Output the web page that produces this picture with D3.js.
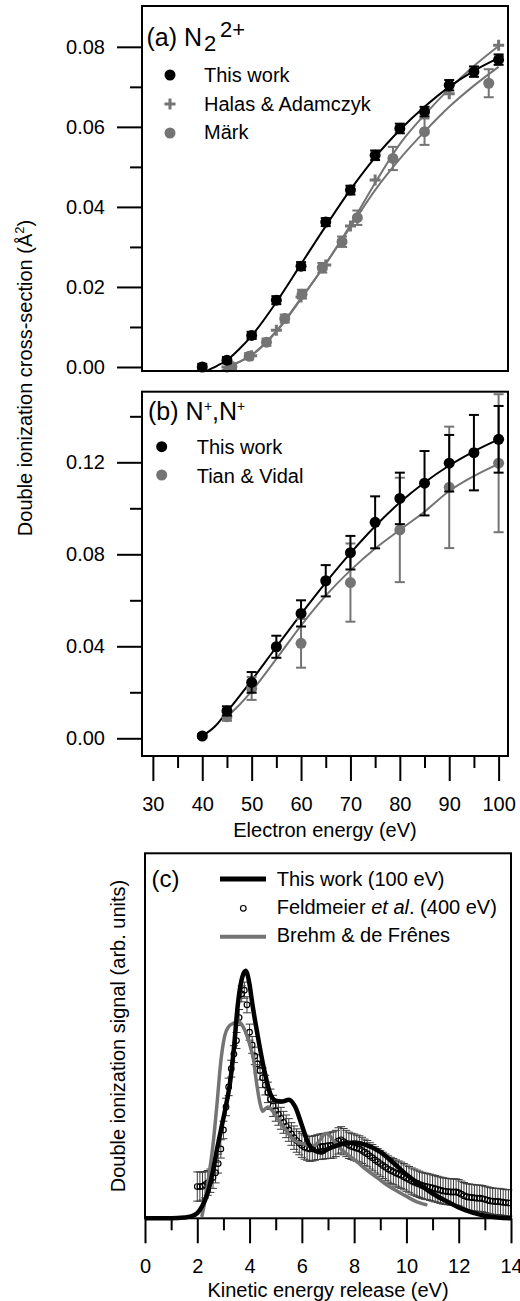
<!DOCTYPE html>
<html>
<head>
<meta charset="utf-8">
<script src="https://cdn.jsdelivr.net/npm/d3@7"></script>
<style>
  body { margin: 0; background: #fff; }
  svg { display: block; }
  text { font-family: "Liberation Sans", Arial, Helvetica, sans-serif; }
</style>
</head>
<body>
<svg id="chart" width="520" height="1301"></svg>
<script>
// ---- panel (a): N2 2+ double ionization cross-section ----
const thisWorkA_E = [40, 45, 50, 55, 60, 65, 70, 75, 80, 85, 90, 95, 100];
const thisWorkA = [0.0000, 0.0017, 0.0079, 0.0167, 0.0252, 0.0362, 0.0442, 0.0529, 0.0596, 0.0638, 0.0704, 0.0738, 0.0768];
const thisWorkA_err = [0.0008, 0.0008, 0.0009, 0.0010, 0.0010, 0.0010, 0.0011, 0.0012, 0.0012, 0.0012, 0.0013, 0.0013, 0.0013];

const halas_E = [45, 50, 55, 60, 65, 70, 75, 90, 100];
const halas = [0.0000, 0.0028, 0.0092, 0.0175, 0.0255, 0.0352, 0.0467, 0.0683, 0.0804];

const mark_E = [46, 49.5, 53, 56.7, 60.2, 64.3, 68.3, 71.4, 78.6, 85, 98];
const mark = [0.0001, 0.0027, 0.0062, 0.0121, 0.0182, 0.0248, 0.0313, 0.0373, 0.0521, 0.0588, 0.0709];
const mark_err = [0.0006, 0.0008, 0.0009, 0.0010, 0.0011, 0.0012, 0.0013, 0.0018, 0.0029, 0.0033, 0.0035];

const fitA_E = [41, 43, 45, 47.5, 50, 55, 60, 65, 70, 75, 80, 85, 90, 95, 100, 101];
const fitA = [-0.0009, 0.0003, 0.0017, 0.0045, 0.0078, 0.0162, 0.0257, 0.0352, 0.0443, 0.0524, 0.0592, 0.0650, 0.0700, 0.0740, 0.0772, 0.0778];
const halasFit_E = [44, 46, 48, 50, 55, 60, 65, 70, 75, 80, 85, 90, 95, 100];
const halasFit = [-0.0009, 0.0004, 0.0016, 0.0030, 0.0088, 0.0170, 0.0258, 0.0355, 0.0460, 0.0557, 0.0630, 0.0695, 0.0752, 0.0802];
const markFit_E = [44, 46, 48, 50, 55, 60, 65, 70, 75, 80, 85, 90, 95, 100];
const markFit = [-0.0009, 0.0004, 0.0016, 0.0030, 0.0090, 0.0172, 0.0258, 0.0350, 0.0442, 0.0520, 0.0588, 0.0650, 0.0703, 0.0750];

// ---- panel (b): N+,N+ ----
const thisWorkB_E = [40, 45, 50, 55, 60, 65, 70, 75, 80, 85, 90, 95, 100];
const thisWorkB = [0.0010, 0.0119, 0.0243, 0.0398, 0.0543, 0.0685, 0.0807, 0.0939, 0.1043, 0.1109, 0.1196, 0.1242, 0.1300];
const thisWorkB_err = [0.0008, 0.0020, 0.0045, 0.0048, 0.0057, 0.0068, 0.0073, 0.0113, 0.0112, 0.0140, 0.0123, 0.0164, 0.0145];

const tian_E = [45, 50, 60, 70, 80, 90, 100];
const tian = [0.0094, 0.0217, 0.0413, 0.0677, 0.0906, 0.1091, 0.1196];
const tian_err = [0.0018, 0.0050, 0.0106, 0.0170, 0.0227, 0.0264, 0.0300];

const fitB_E = [40, 42.5, 45, 50, 55, 60, 65, 70, 75, 80, 85, 90, 95, 100];
const fitB = [0.0010, 0.0050, 0.0115, 0.0252, 0.0397, 0.0540, 0.0677, 0.0805, 0.0922, 0.1025, 0.1112, 0.1186, 0.1248, 0.1300];
const tianFit_E = [44.5, 47.5, 50, 55, 60, 65, 70, 75, 80, 85, 90, 95, 100];
const tianFit = [0.0085, 0.0145, 0.0205, 0.0345, 0.0490, 0.0620, 0.0730, 0.0825, 0.0906, 0.0985, 0.1075, 0.1140, 0.1193];

// ---- panel (c): kinetic energy release ----
const thisWorkC_E = [0, 1.0, 1.5, 1.75, 2.0, 2.2, 2.4, 2.6, 2.75, 2.9, 3.1, 3.25, 3.4, 3.55, 3.7, 3.85, 4.0, 4.1, 4.3, 4.55, 4.8, 5.0, 5.25, 5.5, 5.75, 6.0, 6.25, 6.5, 6.75, 7.0, 7.5, 8.0, 8.5, 9.0, 9.5, 10.0, 10.5, 11.0, 11.5, 12.0, 12.5, 13.0, 13.5, 14.0];
const thisWorkC = [0, 0, 0.002, 0.005, 0.014, 0.035, 0.07, 0.13, 0.187, 0.24, 0.31, 0.37, 0.465, 0.585, 0.655, 0.678, 0.64, 0.59, 0.505, 0.41, 0.34, 0.322, 0.32, 0.325, 0.305, 0.255, 0.205, 0.185, 0.18, 0.19, 0.203, 0.208, 0.2, 0.182, 0.152, 0.12, 0.093, 0.068, 0.048, 0.03, 0.016, 0.007, 0.002, 0];

const brehm_E = [2.17, 2.3, 2.45, 2.6, 2.75, 2.9, 3.05, 3.2, 3.35, 3.55, 3.75, 3.9, 4.05, 4.15, 4.27, 4.4, 4.5, 4.6, 4.7, 4.9, 5.1, 5.3, 5.5, 5.7, 5.9, 6.1, 6.3, 6.5, 6.7, 6.9, 7.05, 7.2, 7.5, 7.8, 8.1, 8.5, 8.9, 9.3, 9.7, 10.0, 10.4, 10.8];
const brehm = [0.004, 0.05, 0.12, 0.2, 0.31, 0.43, 0.5, 0.525, 0.533, 0.539, 0.525, 0.5, 0.465, 0.435, 0.37, 0.315, 0.293, 0.3, 0.305, 0.292, 0.27, 0.25, 0.23, 0.214, 0.207, 0.203, 0.198, 0.2, 0.215, 0.232, 0.228, 0.214, 0.19, 0.172, 0.155, 0.131, 0.11, 0.089, 0.072, 0.06, 0.045, 0.036];

const feld_E = [
  2.0, 2.1, 2.2, 2.3, 2.4, 2.5, 2.6, 2.7, 2.8, 2.9,
  3.0, 3.1, 3.2, 3.3, 3.4, 3.5, 3.6, 3.7, 3.8, 3.9,
  4.0, 4.1, 4.2, 4.3, 4.4, 4.5, 4.6, 4.7, 4.8, 4.9,
  5.0, 5.1, 5.2, 5.3, 5.4, 5.5, 5.6, 5.7, 5.8, 5.9,
  6.0, 6.1, 6.2, 6.3, 6.4, 6.5, 6.6, 6.7, 6.8, 6.9,
  7.0, 7.1, 7.2, 7.3, 7.4, 7.5, 7.6, 7.7, 7.8, 7.9,
  8.0, 8.1, 8.2, 8.3, 8.4, 8.5, 8.6, 8.7, 8.8, 8.9,
  9.0, 9.1, 9.2, 9.3, 9.4, 9.5, 9.6, 9.7, 9.8, 9.9,
  10.0, 10.1, 10.2, 10.3, 10.4, 10.5, 10.6, 10.7, 10.8, 10.9,
  11.0, 11.1, 11.2, 11.3, 11.4, 11.5, 11.6, 11.7, 11.8, 11.9,
  12.0, 12.1, 12.2, 12.3, 12.4, 12.5, 12.6, 12.7, 12.8, 12.9,
  13.0, 13.1, 13.2, 13.3, 13.4, 13.5, 13.6, 13.7, 13.8, 13.9];
const feld = [
  0.087, 0.087, 0.088, 0.092, 0.097, 0.103, 0.112, 0.125, 0.150, 0.190,
  0.242, 0.305, 0.360, 0.410, 0.450, 0.487, 0.550, 0.615, 0.625, 0.585,
  0.510, 0.475, 0.445, 0.423, 0.405, 0.385, 0.365, 0.345, 0.326, 0.308,
  0.295, 0.285, 0.274, 0.263, 0.252, 0.242, 0.231, 0.221, 0.213, 0.206,
  0.200, 0.195, 0.192, 0.190, 0.191, 0.193, 0.195, 0.196, 0.197, 0.198,
  0.199, 0.200, 0.201, 0.205, 0.212, 0.215, 0.210, 0.205, 0.200, 0.197,
  0.195, 0.192, 0.190, 0.186, 0.181, 0.177, 0.171, 0.166, 0.160, 0.155,
  0.150, 0.145, 0.140, 0.135, 0.131, 0.128, 0.124, 0.121, 0.118, 0.114,
  0.110, 0.106, 0.102, 0.099, 0.096, 0.093, 0.090, 0.088, 0.087, 0.085,
  0.083, 0.081, 0.079, 0.077, 0.075, 0.074, 0.073, 0.072, 0.072, 0.072,
  0.070, 0.066, 0.062, 0.059, 0.058, 0.057, 0.056, 0.055, 0.055, 0.054,
  0.052, 0.050, 0.048, 0.047, 0.046, 0.046, 0.045, 0.044, 0.043, 0.042];
const feld_err = [
  0.040, 0.040, 0.038, 0.036, 0.034, 0.032, 0.030, 0.028, 0.026, 0.025,
  0.024, 0.024, 0.024, 0.023, 0.023, 0.022, 0.022, 0.022, 0.022, 0.022,
  0.022, 0.023, 0.024, 0.025, 0.026, 0.027, 0.027, 0.028, 0.028, 0.029,
  0.029, 0.030, 0.030, 0.030, 0.031, 0.031, 0.031, 0.032, 0.032, 0.032,
  0.033, 0.033, 0.033, 0.034, 0.034, 0.034, 0.034, 0.035, 0.035, 0.035,
  0.035, 0.036, 0.036, 0.036, 0.036, 0.036, 0.036, 0.036, 0.036, 0.036,
  0.036, 0.036, 0.036, 0.036, 0.036, 0.036, 0.036, 0.036, 0.036, 0.036,
  0.036, 0.036, 0.036, 0.036, 0.036, 0.036, 0.036, 0.036, 0.036, 0.036,
  0.036, 0.036, 0.036, 0.036, 0.036, 0.036, 0.036, 0.036, 0.036, 0.036,
  0.036, 0.036, 0.036, 0.036, 0.036, 0.036, 0.036, 0.036, 0.036, 0.036,
  0.036, 0.036, 0.036, 0.036, 0.036, 0.036, 0.036, 0.036, 0.036, 0.036,
  0.036, 0.036, 0.036, 0.036, 0.036, 0.036, 0.036, 0.036, 0.036, 0.036];

// ---- ticks ----
const yTicksA = [0, 0.02, 0.04, 0.06, 0.08];
const yMinorA = [0.01, 0.03, 0.05, 0.07];
const yTicksB = [0, 0.04, 0.08, 0.12];
const yMinorB = [0.02, 0.06, 0.10, 0.14];
const xTicksB = [30, 40, 50, 60, 70, 80, 90, 100];
const xMinorB = [35, 45, 55, 65, 75, 85, 95];
const xTicksC = [0, 2, 4, 6, 8, 10, 12, 14];
const xMinorC = [1, 3, 5, 7, 9, 11, 13];

const GRAY = "#747474";
const svg = d3.select("#chart");

const xE = d3.scaleLinear().domain([27.8, 101.9]).range([142, 508]);
const yA = d3.scaleLinear().domain([-0.001, 0.0902]).range([371, 6]);
const yB = d3.scaleLinear().domain([-0.0077, 0.1507]).range([756, 391.7]);
const xK = d3.scaleLinear().domain([0, 14]).range([145, 511]);
const yK = d3.scaleLinear().domain([0, 1]).range([1218.3, 853.3]);

function styleAxis(g) {
  g.select(".domain").remove();
  g.selectAll("line").attr("stroke", "#000").attr("stroke-width", 2);
  g.selectAll("text").attr("font-size", 20).attr("fill", "#000")
    .attr("font-family", '"Liberation Sans", Arial, sans-serif');
}

function leftAxis(scale, x, major, minor) {
  svg.append("g").attr("transform", "translate(" + x + ",0)")
    .call(d3.axisLeft(scale).tickValues(minor).tickSize(12).tickFormat(""))
    .call(styleAxis);
  svg.append("g").attr("transform", "translate(" + x + ",0)")
    .call(d3.axisLeft(scale).tickValues(major).tickSize(25).tickPadding(12).tickFormat(d3.format(".2f")))
    .call(styleAxis);
}

function bottomAxis(scale, y, major, minor) {
  svg.append("g").attr("transform", "translate(0," + y + ")")
    .call(d3.axisBottom(scale).tickValues(minor).tickSize(12).tickFormat(""))
    .call(styleAxis);
  svg.append("g").attr("transform", "translate(0," + y + ")")
    .call(d3.axisBottom(scale).tickValues(major).tickSize(25).tickPadding(16).tickFormat(d3.format("d")))
    .call(styleAxis);
}

function frame(xs, ys) {
  svg.append("rect")
    .attr("x", xs.range()[0]).attr("y", ys.range()[1])
    .attr("width", xs.range()[1] - xs.range()[0])
    .attr("height", ys.range()[0] - ys.range()[1])
    .attr("fill", "none").attr("stroke", "#000").attr("stroke-width", 2);
}

function curve(xs, ys, ex, ey, color, w) {
  const pts = ex.map((e, i) => [e, ey[i]]);
  svg.append("path").datum(pts)
    .attr("fill", "none").attr("stroke", color).attr("stroke-width", w)
    .attr("stroke-linejoin", "round")
    .attr("d", d3.line().x(d => xs(d[0])).y(d => ys(d[1])).curve(d3.curveMonotoneX));
}

function errBars(xs, ys, ex, ey, err, color, w, cap) {
  const g = svg.append("g").attr("stroke", color).attr("stroke-width", w);
  ex.forEach((e, i) => {
    const x = xs(e), y1 = ys(ey[i] - err[i]), y2 = ys(ey[i] + err[i]);
    g.append("line").attr("x1", x).attr("x2", x).attr("y1", y1).attr("y2", y2);
    g.append("line").attr("x1", x - cap).attr("x2", x + cap).attr("y1", y1).attr("y2", y1);
    g.append("line").attr("x1", x - cap).attr("x2", x + cap).attr("y1", y2).attr("y2", y2);
  });
}

function dots(xs, ys, ex, ey, color, r) {
  svg.append("g").selectAll("circle").data(ex).join("circle")
    .attr("cx", d => xs(d)).attr("cy", (d, i) => ys(ey[i])).attr("r", r)
    .attr("fill", color);
}

function pluses(xs, ys, ex, ey, color) {
  svg.append("g").selectAll("path").data(ex).join("path")
    .attr("d", (d, i) => "M" + (xs(d) - 5.5) + "," + ys(ey[i]) + "h11M" + xs(d) + "," + (ys(ey[i]) - 5.5) + "v11")
    .attr("stroke", color).attr("stroke-width", 3);
}

// ===== panel (a) =====
curve(xE, yA, markFit_E, markFit, GRAY, 2);
curve(xE, yA, halasFit_E, halasFit, GRAY, 2);
curve(xE, yA, fitA_E, fitA, "#000", 2);
errBars(xE, yA, mark_E, mark, mark_err, GRAY, 2, 5);
dots(xE, yA, mark_E, mark, GRAY, 5.5);
pluses(xE, yA, halas_E, halas, GRAY);
errBars(xE, yA, thisWorkA_E, thisWorkA, thisWorkA_err, "#000", 2, 5);
dots(xE, yA, thisWorkA_E, thisWorkA, "#000", 5.5);
frame(xE, yA);
leftAxis(yA, 142, yTicksA, yMinorA);

const titleA = svg.append("text").attr("font-size", 25).attr("y", 46);
titleA.append("tspan").attr("x", 146.5).text("(a) N");
titleA.append("tspan").attr("x", 204).attr("y", 51).attr("font-size", 22).text("2");
titleA.append("tspan").attr("x", 220).attr("y", 37).attr("font-size", 22).text("2+");

const legA = svg.append("g").attr("font-size", 20);
legA.append("circle").attr("cx", 170).attr("cy", 75).attr("r", 5.5).attr("fill", "#000");
legA.append("path").attr("d", "M164.5,104h11M170,98.5v11").attr("stroke", GRAY).attr("stroke-width", 3);
legA.append("circle").attr("cx", 170).attr("cy", 133).attr("r", 5.5).attr("fill", GRAY);
legA.append("text").attr("x", 204).attr("y", 81.7).text("This work");
legA.append("text").attr("x", 204).attr("y", 110.7).text("Halas & Adamczyk");
legA.append("text").attr("x", 204).attr("y", 138.7).text("Märk");

// ===== panel (b) =====
curve(xE, yB, tianFit_E, tianFit, GRAY, 2);
curve(xE, yB, fitB_E, fitB, "#000", 2);
errBars(xE, yB, tian_E, tian, tian_err, GRAY, 2, 5);
dots(xE, yB, tian_E, tian, GRAY, 5.5);
errBars(xE, yB, thisWorkB_E, thisWorkB, thisWorkB_err, "#000", 2, 5);
dots(xE, yB, thisWorkB_E, thisWorkB, "#000", 5.5);
frame(xE, yB);
leftAxis(yB, 142, yTicksB, yMinorB);
bottomAxis(xE, 756, xTicksB, xMinorB);

const titleB = svg.append("text").attr("font-size", 25).attr("y", 420);
titleB.append("tspan").attr("x", 148).text("(b) N");
titleB.append("tspan").attr("x", 204).attr("y", 411).attr("font-size", 14).text("+");
titleB.append("tspan").attr("x", 212).attr("y", 420).text(",N");
titleB.append("tspan").attr("x", 237).attr("y", 411).attr("font-size", 14).text("+");

const legB = svg.append("g").attr("font-size", 20);
legB.append("circle").attr("cx", 161.7).attr("cy", 446.7).attr("r", 5.5).attr("fill", "#000");
legB.append("circle").attr("cx", 161.7).attr("cy", 475).attr("r", 5.5).attr("fill", GRAY);
legB.append("text").attr("x", 196.7).attr("y", 454).text("This work");
legB.append("text").attr("x", 196.7).attr("y", 482.7).text("Tian & Vidal");

svg.append("text").attr("x", 325).attr("y", 837).attr("text-anchor", "middle")
  .attr("font-size", 20).text("Electron energy (eV)");

const yTitleAB = svg.append("text").attr("transform", "translate(31.5,378) rotate(-90)")
  .attr("text-anchor", "middle").attr("font-size", 20);
yTitleAB.append("tspan").text("Double ionization cross-section (Å");
yTitleAB.append("tspan").attr("font-size", 13).attr("dy", -8).text("2");
yTitleAB.append("tspan").attr("dy", 8).text(")");

// ===== panel (c) =====
errBars(xK, yK, feld_E, feld, feld_err, "#3a3a3a", 1, 4);
svg.append("g").selectAll("circle").data(feld_E).join("circle")
  .attr("cx", d => xK(d)).attr("cy", (d, i) => yK(feld[i])).attr("r", 2.8)
  .attr("fill", "none").attr("stroke", "#000").attr("stroke-width", 1.2);
curve(xK, yK, brehm_E, brehm, GRAY, 3.5);
curve(xK, yK, thisWorkC_E, thisWorkC, "#000", 4.5);
frame(xK, yK);
bottomAxis(xK, 1218.3, xTicksC, xMinorC);

svg.append("text").attr("x", 151.5).attr("y", 887).attr("font-size", 24).text("(c)");
const legC = svg.append("g").attr("font-size", 20);
legC.append("line").attr("x1", 220).attr("x2", 266).attr("y1", 879).attr("y2", 879)
  .attr("stroke", "#000").attr("stroke-width", 5);
legC.append("circle").attr("cx", 243.3).attr("cy", 908.3).attr("r", 2.8)
  .attr("fill", "none").attr("stroke", "#000").attr("stroke-width", 1.2);
legC.append("line").attr("x1", 220).attr("x2", 266).attr("y1", 936.7).attr("y2", 936.7)
  .attr("stroke", GRAY).attr("stroke-width", 4);
legC.append("text").attr("x", 276.7).attr("y", 886).text("This work (100 eV)");
const feldLabel = legC.append("text").attr("x", 276.7).attr("y", 914);
feldLabel.append("tspan").text("Feldmeier ");
feldLabel.append("tspan").attr("font-style", "italic").text("et al");
feldLabel.append("tspan").text(". (400 eV)");
legC.append("text").attr("x", 276.7).attr("y", 942).text("Brehm & de Frênes");

svg.append("text").attr("x", 328).attr("y", 1296.7).attr("text-anchor", "middle")
  .attr("font-size", 20).text("Kinetic energy release (eV)");
svg.append("text").attr("transform", "translate(125,1036) rotate(-90)")
  .attr("text-anchor", "middle").attr("font-size", 20).text("Double ionization signal (arb. units)");
</script>
</body>
</html>
